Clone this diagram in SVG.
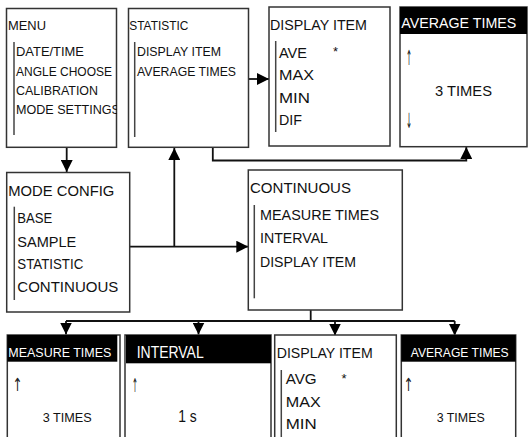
<svg xmlns="http://www.w3.org/2000/svg" width="528" height="437" viewBox="0 0 528 437">
<defs>
<style>
.box{fill:#fff;stroke:#333;stroke-width:1.5}
.hdr{fill:#000}
.bar{stroke:#444;stroke-width:1.5}
.t{font-family:"Liberation Sans",Arial,sans-serif;fill:#111}
.s13{font-size:13px}
.s15{font-size:15px}
.s16{font-size:16px}
.ar{font-family:"DejaVu Sans",sans-serif;fill:#222}
.w{fill:#fff}
.con{fill:none;stroke:#111;stroke-width:1.8}
</style>
<marker id="ah" markerUnits="userSpaceOnUse" markerWidth="12" markerHeight="12" viewBox="0 0 12 12" refX="12" refY="6" orient="auto">
<path d="M0,0 L12,6 L0,12 Z" fill="#000"/>
</marker>
<clipPath id="c1"><rect x="6" y="8" width="111" height="140"/></clipPath>
</defs>
<rect width="528" height="437" fill="#fff"/>

<g id="connectors">
<line class="con" x1="66.7" y1="147" x2="66.7" y2="172" marker-end="url(#ah)"/>
<line class="con" x1="130" y1="246.7" x2="248.3" y2="246.7" marker-end="url(#ah)"/>
<line class="con" x1="174.3" y1="246.7" x2="174.3" y2="148" marker-end="url(#ah)"/>
<line class="con" x1="248.5" y1="79" x2="269" y2="79" marker-end="url(#ah)"/>
<polyline class="con" points="212.8,147 212.8,160.5 466.3,160.5 466.3,147" marker-end="url(#ah)"/>
<polyline class="con" points="310.7,310 310.7,321"/>
<line class="con" x1="66" y1="321" x2="454.7" y2="321"/>
<line class="con" x1="66" y1="321" x2="66" y2="334.5" marker-end="url(#ah)"/>
<line class="con" x1="198.5" y1="321" x2="198.5" y2="334.5" marker-end="url(#ah)"/>
<line class="con" x1="335" y1="321" x2="335" y2="335.5" marker-end="url(#ah)"/>
<line class="con" x1="454.7" y1="321" x2="454.7" y2="335.5" marker-end="url(#ah)"/>
</g>

<g id="menu">
<rect class="box" x="6.5" y="8.5" width="110" height="138.8"/>
<text class="t s13" x="8" y="30" textLength="38" lengthAdjust="spacingAndGlyphs">MENU</text>
<line class="bar" x1="14" y1="42" x2="14" y2="135"/>
<g clip-path="url(#c1)">
<text class="t s13" x="16" y="56" textLength="68" lengthAdjust="spacingAndGlyphs">DATE/TIME</text>
<text class="t s13" x="16" y="76" textLength="96" lengthAdjust="spacingAndGlyphs">ANGLE CHOOSE</text>
<text class="t s13" x="16" y="94.5" textLength="82" lengthAdjust="spacingAndGlyphs">CALIBRATION</text>
<text class="t s13" x="16" y="113.5" textLength="104" lengthAdjust="spacingAndGlyphs">MODE SETTINGS</text>
</g>
</g>

<g id="statistic">
<rect class="box" x="128.5" y="8.5" width="120" height="138.8"/>
<text class="t s13" x="129.3" y="30" textLength="59" lengthAdjust="spacingAndGlyphs">STATISTIC</text>
<line class="bar" x1="134.7" y1="42" x2="134.7" y2="137"/>
<text class="t s13" x="137" y="56" textLength="84" lengthAdjust="spacingAndGlyphs">DISPLAY ITEM</text>
<text class="t s13" x="137" y="76" textLength="99" lengthAdjust="spacingAndGlyphs">AVERAGE TIMES</text>
</g>

<g id="display-item-top">
<rect class="box" x="269" y="7" width="121" height="139"/>
<text class="t s15" x="270" y="30" textLength="97" lengthAdjust="spacingAndGlyphs">DISPLAY ITEM</text>
<line class="bar" x1="275.7" y1="41" x2="275.7" y2="132"/>
<text class="t s15" x="279" y="57.5" textLength="28" lengthAdjust="spacingAndGlyphs">AVE</text>
<text class="t s13" x="333" y="56">*</text>
<text class="t s15" x="279" y="80" textLength="35" lengthAdjust="spacingAndGlyphs">MAX</text>
<text class="t s15" x="279" y="103" textLength="31" lengthAdjust="spacingAndGlyphs">MIN</text>
<text class="t s15" x="279" y="125" textLength="23" lengthAdjust="spacingAndGlyphs">DIF</text>
</g>

<g id="average-times-top">
<rect class="box" x="400" y="7" width="127" height="139.7"/>
<rect class="hdr" x="400" y="7" width="127" height="27"/>
<text class="t s15 w" x="401.3" y="28.3" textLength="115" lengthAdjust="spacingAndGlyphs">AVERAGE TIMES</text>
<text class="ar" x="406" y="65" font-size="21" textLength="6" lengthAdjust="spacingAndGlyphs">↑</text>
<text class="t s15" x="435" y="95.7" textLength="57" lengthAdjust="spacingAndGlyphs">3 TIMES</text>
<text class="ar" x="406" y="128" font-size="21" textLength="6" lengthAdjust="spacingAndGlyphs">↓</text>
</g>

<g id="mode-config">
<rect class="box" x="6.7" y="172.5" width="123" height="139.5"/>
<text class="t s15" x="8.3" y="196" textLength="106" lengthAdjust="spacingAndGlyphs">MODE CONFIG</text>
<line class="bar" x1="14.3" y1="206.7" x2="14.3" y2="300"/>
<text class="t s15" x="17.3" y="223.3" textLength="35" lengthAdjust="spacingAndGlyphs">BASE</text>
<text class="t s15" x="17.3" y="246.7" textLength="59" lengthAdjust="spacingAndGlyphs">SAMPLE</text>
<text class="t s15" x="17.3" y="269" textLength="66" lengthAdjust="spacingAndGlyphs">STATISTIC</text>
<text class="t s15" x="17.3" y="291.7" textLength="101" lengthAdjust="spacingAndGlyphs">CONTINUOUS</text>
</g>

<g id="continuous">
<rect class="box" x="248.3" y="170" width="154" height="140"/>
<text class="t s15" x="250" y="193.3" textLength="101" lengthAdjust="spacingAndGlyphs">CONTINUOUS</text>
<line class="bar" x1="254.3" y1="205" x2="254.3" y2="298.3"/>
<text class="t s15" x="260" y="220" textLength="119" lengthAdjust="spacingAndGlyphs">MEASURE TIMES</text>
<text class="t s15" x="260" y="243.3" textLength="68" lengthAdjust="spacingAndGlyphs">INTERVAL</text>
<text class="t s15" x="260" y="266.7" textLength="96" lengthAdjust="spacingAndGlyphs">DISPLAY ITEM</text>
</g>

<g id="measure-times">
<rect class="box" x="7.3" y="335" width="112.7" height="110"/>
<rect class="hdr" x="7.3" y="335" width="110" height="26.7"/>
<text class="t s13 w" x="8.3" y="356.7" textLength="103" lengthAdjust="spacingAndGlyphs">MEASURE TIMES</text>
<text class="ar" x="12.5" y="391" font-size="18" textLength="10" lengthAdjust="spacingAndGlyphs">↑</text>
<text class="t s13" x="42.7" y="422.3" textLength="49" lengthAdjust="spacingAndGlyphs">3 TIMES</text>
</g>

<g id="interval">
<rect class="box" x="125" y="335" width="146" height="110"/>
<rect class="hdr" x="126" y="335" width="145" height="28.3"/>
<text class="t s16 w" x="136.7" y="358.3" textLength="67" lengthAdjust="spacingAndGlyphs">INTERVAL</text>
<text class="ar" x="132" y="392" font-size="19" textLength="6" lengthAdjust="spacingAndGlyphs">↑</text>
<text class="t s16" x="178.3" y="422.3" textLength="18.5" lengthAdjust="spacingAndGlyphs">1 s</text>
</g>

<g id="display-item-bottom">
<rect class="box" x="274.7" y="335" width="121.6" height="110"/>
<text class="t s15" x="276.7" y="358.3" textLength="96" lengthAdjust="spacingAndGlyphs">DISPLAY ITEM</text>
<line class="bar" x1="281.3" y1="370" x2="281.3" y2="440"/>
<text class="t s15" x="285.7" y="384" textLength="31" lengthAdjust="spacingAndGlyphs">AVG</text>
<text class="t s13" x="341.5" y="383">*</text>
<text class="t s15" x="285.7" y="406.7" textLength="35" lengthAdjust="spacingAndGlyphs">MAX</text>
<text class="t s15" x="285.7" y="429.3" textLength="31" lengthAdjust="spacingAndGlyphs">MIN</text>
</g>

<g id="average-times-bottom">
<rect class="box" x="401.3" y="335" width="114.4" height="110"/>
<rect class="hdr" x="401.3" y="335" width="114.4" height="26.7"/>
<text class="t s13 w" x="410.7" y="356.7" textLength="98" lengthAdjust="spacingAndGlyphs">AVERAGE TIMES</text>
<text class="ar" x="403.5" y="391" font-size="18" textLength="10" lengthAdjust="spacingAndGlyphs">↑</text>
<text class="t s13" x="436.7" y="422.3" textLength="48" lengthAdjust="spacingAndGlyphs">3 TIMES</text>
</g>
</svg>
